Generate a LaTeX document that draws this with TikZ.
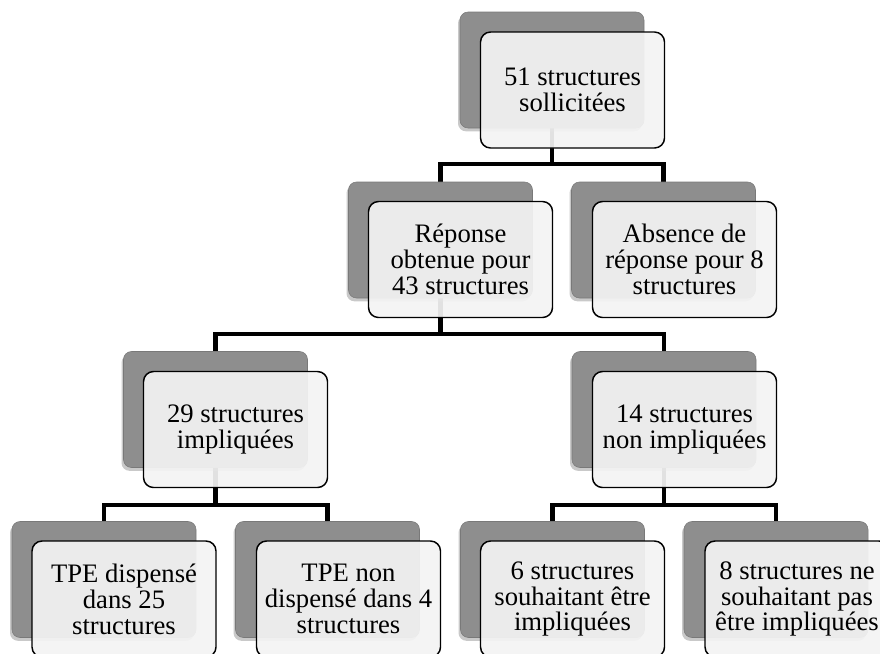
\documentclass[tikz,border=0pt]{standalone}
\usepackage{fontspec}
\setmainfont{Liberation Serif}
\usetikzlibrary{shadows}
\pgfdeclarelayer{bg}
\pgfsetlayers{bg,main}
\definecolor{backgray}{RGB}{142,142,142}
\definecolor{frontfill}{RGB}{243,243,243}
\begin{document}
\begin{tikzpicture}[x=0.75pt,y=-0.75pt,
  backbox/.style={rectangle, rounded corners=6pt, fill=backgray, draw=backgray!85!black, line width=0.4pt,
    minimum width=138pt, minimum height=87pt, inner sep=0pt,
    drop shadow={shadow xshift=-1.5pt, shadow yshift=-2.5pt, opacity=0.3, fill=black!70}},
  frontbox/.style={rectangle, rounded corners=7.5pt, fill=frontfill, fill opacity=0.93, text opacity=1,
    draw=black, line width=1.1pt, minimum width=138pt, minimum height=87pt, inner sep=0pt,
    align=center, font=\fontsize{20}{19.4}\selectfont},
  link/.style={line width=3.2pt, draw=black}]
\useasboundingbox (0,0) rectangle (880,653);
\clip (0,0) rectangle (880,653);

\node[backbox] (b1) at (552,70) {};
\node[frontbox] (f1) at (572.5,90) {51 structures\\sollicitées};
\node[backbox] (b2) at (440.5,240) {};
\node[frontbox] (f2) at (460.5,259.5) {Réponse\\obtenue pour\\43 structures};
\node[backbox] (b3) at (663.5,240) {};
\node[frontbox] (f3) at (684.5,259.5) {Absence de\\réponse pour 8\\structures};
\node[backbox] (b4) at (215.5,409.5) {};
\node[frontbox] (f4) at (235.5,429.5) {29 structures\\impliquées};
\node[backbox] (b5) at (664,409.5) {};
\node[frontbox] (f5) at (684.5,429.5) {14 structures\\non impliquées};
\node[backbox] (b6) at (104,579.5) {};
\node[frontbox] (f6) at (124,599) {TPE dispensé\\dans 25\\structures};
\node[backbox] (b7) at (327.5,579.5) {};
\node[frontbox] (f7) at (348.5,599) {TPE non\\dispensé dans 4\\structures};
\node[backbox] (b8) at (552.5,579.5) {};
\node[frontbox] (f8) at (572.5,599) {6 structures\\souhaitant être\\impliquées};
\node[backbox] (b9) at (776,579.5) {};
\node[frontbox] (f9) at (797,599) {8 structures ne\\souhaitant pas\\être impliquées};

\begin{pgfonlayer}{bg}
\coordinate (j1) at (552,164);
\coordinate (j2) at (440,334);
\coordinate (j3) at (215,505);
\coordinate (j4) at (664,505);
\draw[link] (b1.south) -- (b1.south |- j1);
\draw[link] (b2.north) -- (b2.north |- j1) -- (b3.north |- j1) -- (b3.north);
\draw[link] (b2.south) -- (b2.south |- j2);
\draw[link] (b4.north) -- (b4.north |- j2) -- (b5.north |- j2) -- (b5.north);
\draw[link] (b4.south) -- (b4.south |- j3);
\draw[link] (b6.north) -- (b6.north |- j3) -- (b7.north |- j3) -- (b7.north);
\draw[link] (b5.south) -- (b5.south |- j4);
\draw[link] (b8.north) -- (b8.north |- j4) -- (b9.north |- j4) -- (b9.north);
\end{pgfonlayer}
\end{tikzpicture}
\end{document}
